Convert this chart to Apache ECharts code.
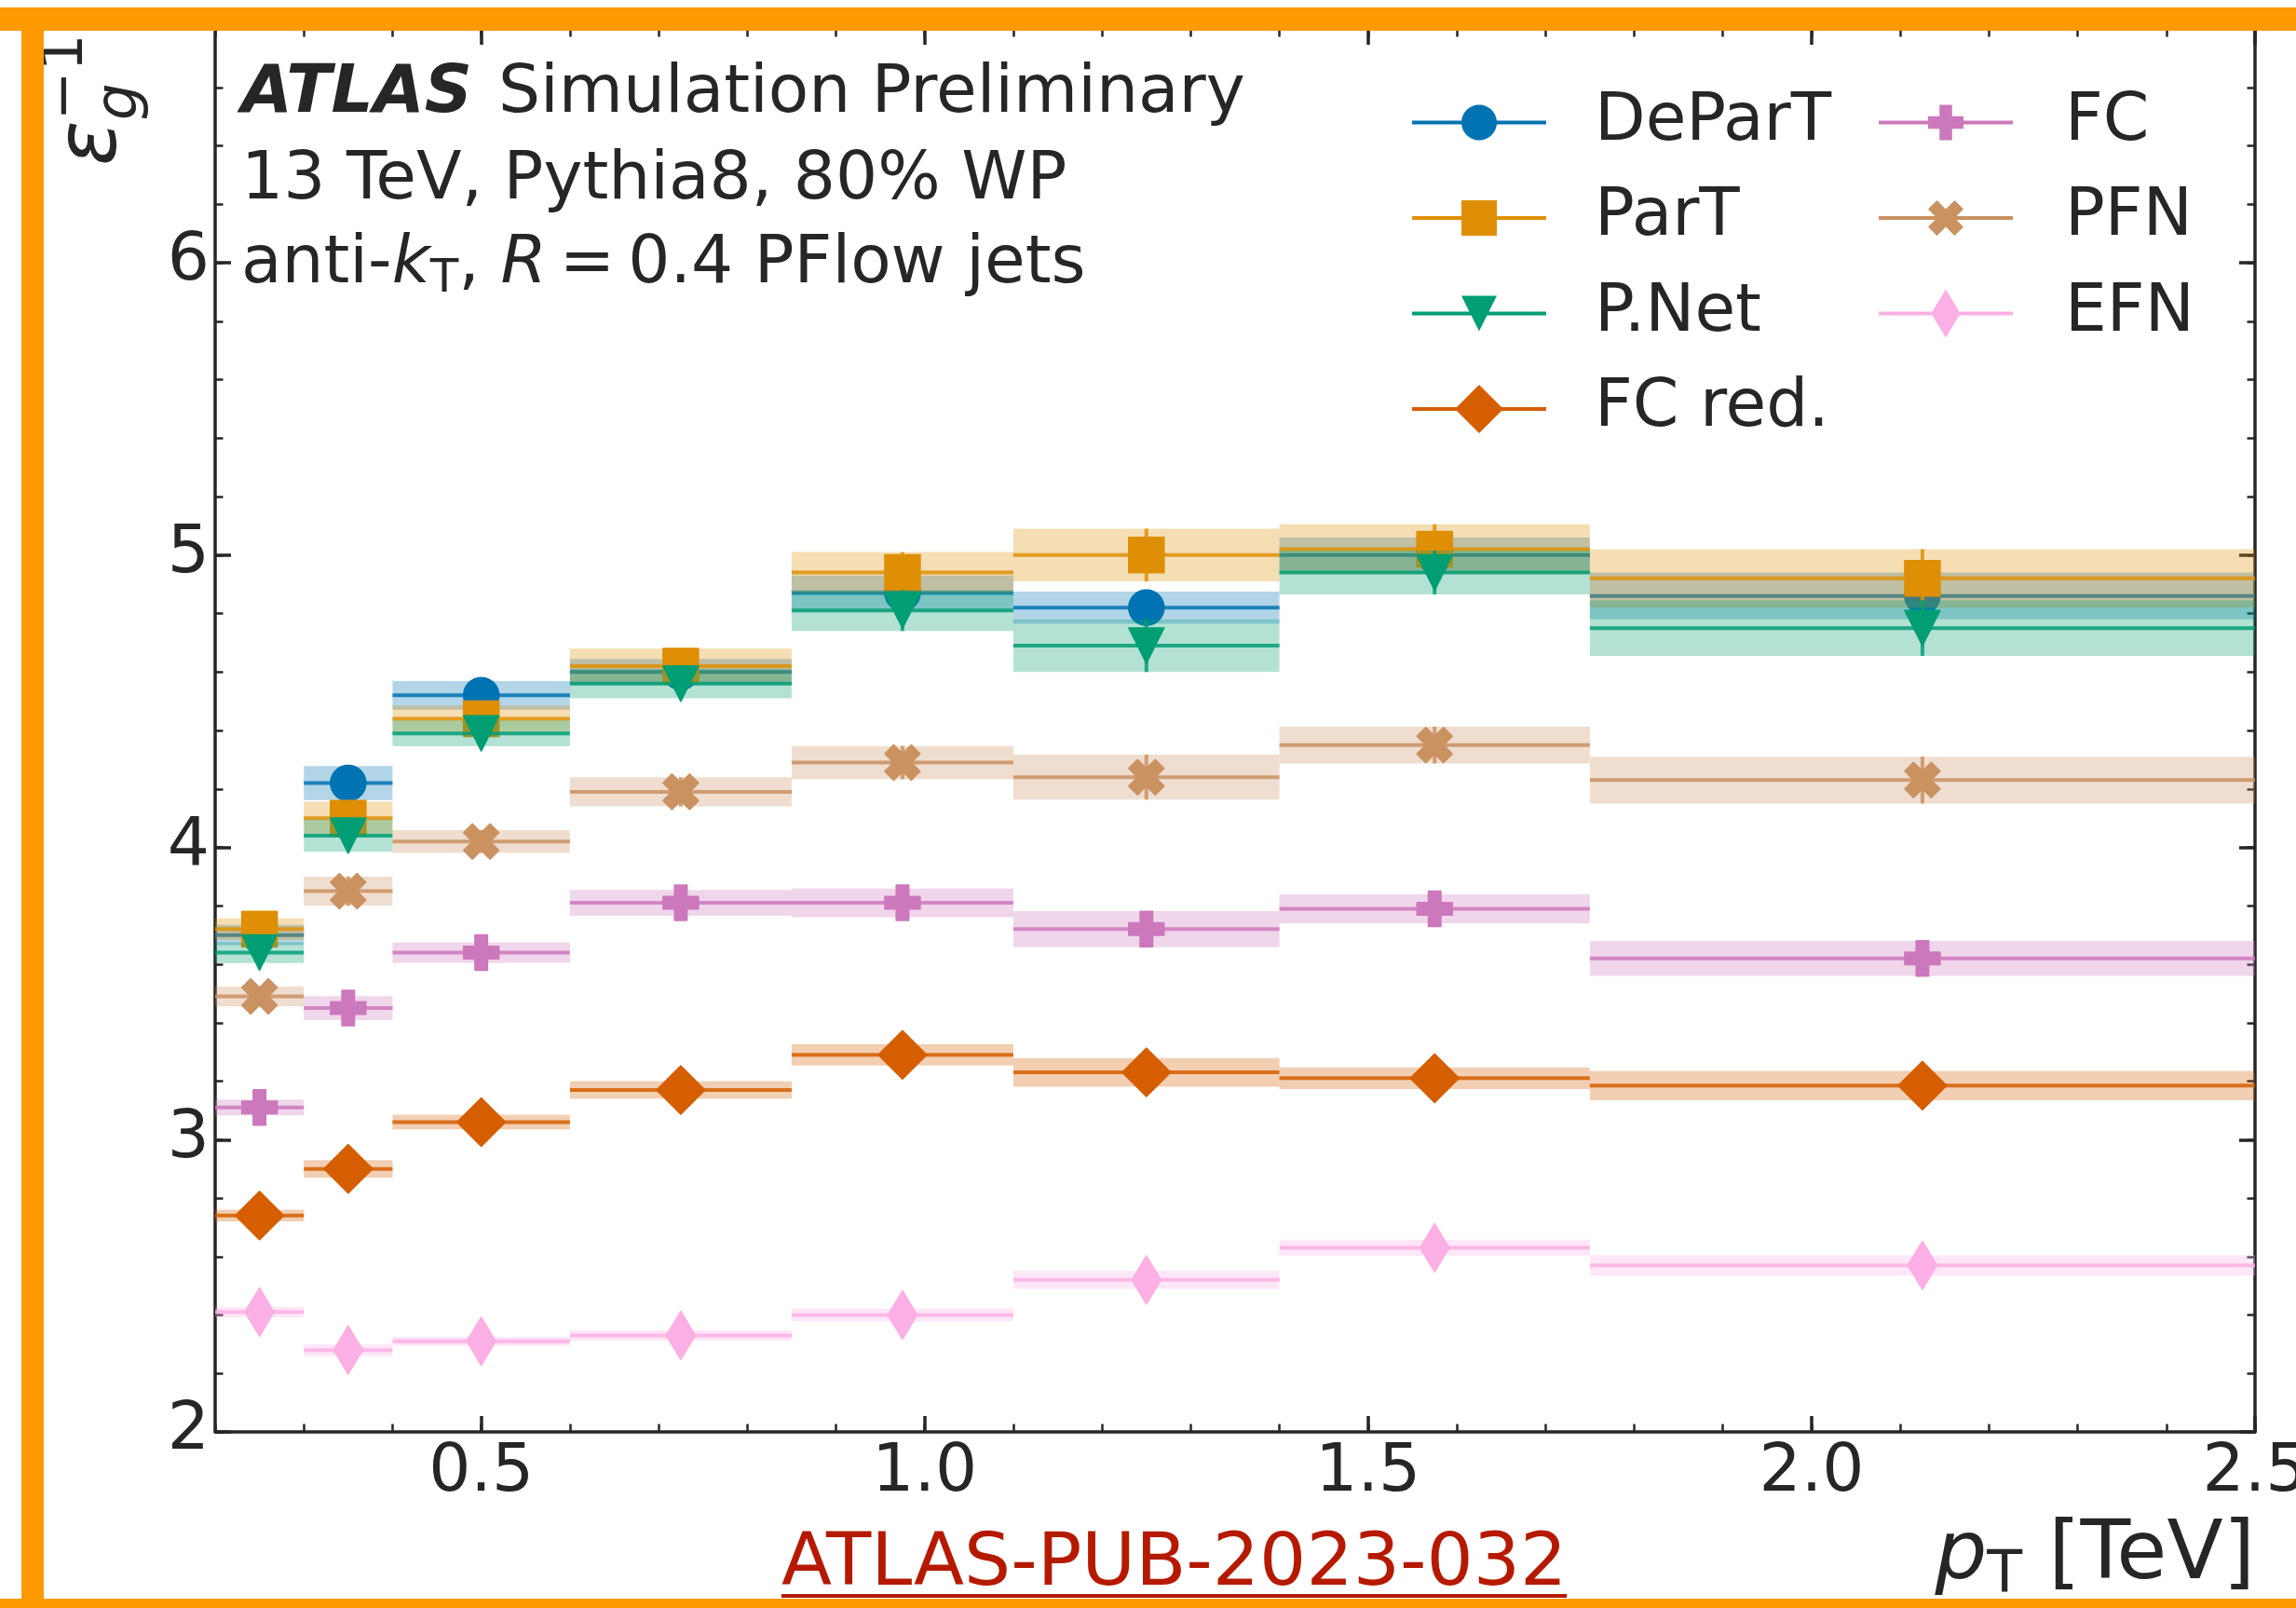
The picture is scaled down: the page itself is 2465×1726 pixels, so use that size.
<!DOCTYPE html>
<html>
<head>
<meta charset="utf-8">
<title>Gluon rejection vs pT</title>
<script src="https://cdn.jsdelivr.net/npm/echarts@6/dist/echarts.min.js"></script>
<style>
  html, body { margin: 0; padding: 0; background: #fff; }
  #chart { width: 2465px; height: 1726px; }
</style>
</head>
<body>
<div id="chart"></div>
<script>
// pT bins [TeV]
const binEdges = [0.2, 0.3, 0.4, 0.6, 0.85, 1.1, 1.4, 1.75, 2.5];
const binCenters = [0.25, 0.35, 0.5, 0.725, 0.975, 1.25, 1.575, 2.125];

// inverse gluon efficiency per bin, and half height of the uncertainty band
const departVals = [3.70, 4.22, 4.52, 4.60, 4.87, 4.82, 5.00, 4.86];
const departErrs = [0.035, 0.058, 0.049, 0.045, 0.06, 0.055, 0.06, 0.08];
const partVals = [3.72, 4.10, 4.44, 4.62, 4.94, 5.00, 5.02, 4.92];
const partErrs = [0.037, 0.056, 0.045, 0.06, 0.07, 0.09, 0.085, 0.10];
const pnetVals = [3.64, 4.04, 4.39, 4.56, 4.81, 4.69, 4.94, 4.75];
const pnetErrs = [0.036, 0.055, 0.044, 0.05, 0.07, 0.09, 0.075, 0.095];
const fcredVals = [2.74, 2.90, 3.06, 3.17, 3.29, 3.23, 3.21, 3.185];
const fcredErrs = [0.02, 0.03, 0.025, 0.03, 0.037, 0.049, 0.037, 0.05];
const fcVals = [3.11, 3.45, 3.64, 3.81, 3.81, 3.72, 3.79, 3.62];
const fcErrs = [0.027, 0.041, 0.035, 0.044, 0.049, 0.062, 0.05, 0.06];
const pfnVals = [3.49, 3.85, 4.02, 4.19, 4.29, 4.24, 4.35, 4.23];
const pfnErrs = [0.034, 0.05, 0.039, 0.05, 0.057, 0.077, 0.063, 0.08];
const efnVals = [2.41, 2.28, 2.31, 2.33, 2.40, 2.52, 2.63, 2.57];
const efnErrs = [0.018, 0.02, 0.015, 0.018, 0.022, 0.031, 0.027, 0.035];

// tick labels
const xMajorTicks = [0.5, 1.0, 1.5, 2.0, 2.5];
const yMajorTicks = [2, 3, 4, 5, 6];

const FONT = 'DejaVu Sans';
const TEXT = '#262626';
const MID = 0.29; // canvas 'middle' sits this many em above the baseline

// marker outlines in px around the point, all clockwise
function circlePts(r) {
  const pts = [];
  for (let i = 0; i < 64; i++) {
    const t = i / 64 * 2 * Math.PI;
    pts.push([r * Math.cos(t), r * Math.sin(t)]);
  }
  return pts;
}
const a = 6.75;
const markers = {
  circle: circlePts(19),
  square: [[-19, -19], [19, -19], [19, 19], [-19, 19]],
  triDown: [[-19, -19], [19, -19], [0, 19]],
  diamond: [[0, -26], [26, 0], [0, 26], [-26, 0]],
  plus: [[-a, -19], [a, -19], [a, -a], [19, -a], [19, a], [a, a], [a, 19], [-a, 19], [-a, a], [-19, a], [-19, -a], [-a, -a]],
  cross: [[-1, -2], [0, -1], [1, -2], [2, -1], [1, 0], [2, 1], [1, 2], [0, 1], [-1, 2], [-2, 1], [-1, 0], [-2, -1]].map(p => [p[0] * 9.5, p[1] * 9.5]),
  thinDiamond: [[0, -26], [15.6, 0], [0, 26], [-15.6, 0]]
};

const taggers = [
  { name: 'DeParT', color: '#0173B2', marker: 'circle', vals: departVals, errs: departErrs },
  { name: 'ParT', color: '#DE8F05', marker: 'square', vals: partVals, errs: partErrs },
  { name: 'P.Net', color: '#029E73', marker: 'triDown', vals: pnetVals, errs: pnetErrs },
  { name: 'FC red.', color: '#D55E00', marker: 'diamond', vals: fcredVals, errs: fcredErrs },
  { name: 'FC', color: '#CC78BC', marker: 'plus', vals: fcVals, errs: fcErrs },
  { name: 'PFN', color: '#CA9161', marker: 'cross', vals: pfnVals, errs: pfnErrs },
  { name: 'EFN', color: '#FBAFE4', marker: 'thinDiamond', vals: efnVals, errs: efnErrs }
];

function binRenderer(t) {
  const pts = markers[t.marker];
  return function (params, api) {
    const xc = api.value(0), y = api.value(1), lo = api.value(2), hi = api.value(3), err = api.value(4);
    const pl = api.coord([lo, y]);
    const pr = api.coord([hi, y]);
    const pc = api.coord([xc, y]);
    const top = api.coord([xc, y + err])[1];
    const bot = api.coord([xc, y - err])[1];
    return {
      type: 'group',
      children: [
        { type: 'rect', shape: { x: pl[0], y: top, width: pr[0] - pl[0], height: bot - top },
          style: { fill: t.color, opacity: 0.3 } },
        { type: 'line', shape: { x1: pl[0], y1: pc[1], x2: pr[0], y2: pc[1] },
          style: { stroke: t.color, lineWidth: 4, opacity: 0.85 } },
        { type: 'line', shape: { x1: pc[0], y1: top, x2: pc[0], y2: bot },
          style: { stroke: t.color, lineWidth: 4, opacity: 0.85 } },
        { type: 'polygon', shape: { points: pts.map(p => [p[0] + pc[0], p[1] + pc[1]]) },
          style: { fill: t.color, stroke: t.color, lineWidth: 1.5, lineJoin: 'round' } }
      ]
    };
  };
}

// legend handle: line with the marker in the middle
function legendIcon(key) {
  const pts = markers[key];
  const h = Math.max(...pts.map(p => Math.abs(p[1])));
  const W = 144, cx = 72;
  const bar = 'M0,' + (h - 2) + ' L' + W + ',' + (h - 2) + ' L' + W + ',' + (h + 2) + ' L0,' + (h + 2) + ' Z';
  const m = 'M' + pts.map(p => (p[0] + cx).toFixed(2) + ',' + (p[1] + h).toFixed(2)).join(' L') + ' Z';
  return 'path://' + bar + ' ' + m;
}

const mctx = document.createElement('canvas').getContext('2d');
function advance(str, size, fstyle) {
  mctx.font = (fstyle || 'normal') + ' normal normal ' + size + 'px "' + FONT + '"';
  return mctx.measureText(str).width;
}

function txt(str, x, baseline, size, extra) {
  return {
    type: 'text', x: x, y: baseline - MID * size, z: 50,
    style: Object.assign({ text: str, fontFamily: FONT, fontSize: size, fill: TEXT,
      align: 'left', verticalAlign: 'middle' }, extra || {})
  };
}
// rotated (reading upwards): baselineX is the screen x of the baseline, startY where the text begins
function vtxt(str, baselineX, startY, size, extra) {
  return {
    type: 'text', x: baselineX - MID * size, y: startY, rotation: Math.PI / 2, z: 50,
    style: Object.assign({ text: str, fontFamily: FONT, fontSize: size, fill: TEXT,
      align: 'left', verticalAlign: 'middle' }, extra || {})
  };
}

const graphics = [];
// labels in the top left corner
graphics.push(txt('ATLAS', 259, 122, 71, { fontStyle: 'italic', fontWeight: 'bold' }));
graphics.push(txt('Simulation Preliminary', 535, 122, 71));
graphics.push(txt('13 TeV, Pythia8, 80% WP', 259, 215, 71));
let lx = 259;
const mathGap = 14; // spacing round '=' in the math part
graphics.push(txt('anti-', lx, 305, 71)); lx += advance('anti-', 71);
graphics.push(txt('k', lx, 305, 71, { fontStyle: 'italic' })); lx += advance('k', 71, 'italic');
graphics.push(txt('T', lx, 315, 50)); lx += advance('T', 50);
graphics.push(txt(', ', lx, 305, 71)); lx += advance(', ', 71);
graphics.push(txt('R', lx, 305, 71, { fontStyle: 'italic' })); lx += advance('R', 71, 'italic') + mathGap;
graphics.push(txt('=', lx, 305, 71)); lx += advance('=', 71) + mathGap;
graphics.push(txt('0.4 PFlow jets', lx, 305, 71));

// x axis title, right aligned to the plot edge
const xlW = advance('p', 88, 'italic') + advance('T', 62) + advance(' [TeV]', 88);
let xx = 2421 - xlW;
graphics.push(txt('p', xx, 1697, 88, { fontStyle: 'italic' })); xx += advance('p', 88, 'italic');
graphics.push(txt('T', xx, 1710, 62)); xx += advance('T', 62);
graphics.push(txt(' [TeV]', xx, 1697, 88));

// y axis title
const epsW = advance('ε', 90, 'italic');
graphics.push(vtxt('ε', 127, 178, 90, { fontStyle: 'italic' }));
graphics.push(vtxt('g', 148, 178 - epsW, 63, { fontStyle: 'italic' }));
graphics.push(vtxt('−1', 90, 178 - epsW, 63));

// publication reference
const pubW = advance('ATLAS-PUB-2023-032', 79);
graphics.push(txt('ATLAS-PUB-2023-032', 839, 1703, 79, { fill: '#b51a00' }));
graphics.push({ type: 'rect', z: 50, shape: { x: 839, y: 1711, width: pubW, height: 4 }, style: { fill: '#b51a00' } });

// orange frame round the picture
const FRAME = '#ff9900';
graphics.push({ type: 'rect', z: 100, shape: { x: 0, y: 8, width: 2465, height: 25 }, style: { fill: FRAME } });
graphics.push({ type: 'rect', z: 100, shape: { x: 23, y: 8, width: 24, height: 1718 }, style: { fill: FRAME } });
graphics.push({ type: 'rect', z: 100, shape: { x: 0, y: 1716, width: 2465, height: 10 }, style: { fill: FRAME } });

function majorAxis(pos, min, max, ticks, fmt, showLabel, margin) {
  return {
    type: 'value', position: pos, min: min, max: max,
    axisLine: { show: true, onZero: false, lineStyle: { color: TEXT, width: 3.5 } },
    axisTick: { show: true, inside: true, length: 17, customValues: ticks, lineStyle: { color: TEXT, width: 3.5 } },
    axisLabel: { show: showLabel, customValues: ticks, formatter: fmt, margin: margin,
      fontSize: 71, fontFamily: FONT, color: TEXT },
    splitLine: { show: false }
  };
}
function minorAxis(pos, min, max, step) {
  return {
    type: 'value', position: pos, min: min, max: max, interval: step,
    axisLine: { show: false },
    axisTick: { show: true, inside: true, length: 8.5, lineStyle: { color: TEXT, width: 2.5 } },
    axisLabel: { show: false },
    splitLine: { show: false }
  };
}

function legendBlock(items, left, textPad) {
  return {
    data: items.map(t => ({ name: t.name, icon: legendIcon(t.marker) })),
    orient: 'vertical', left: left, top: 96, padding: 0,
    itemWidth: 144, itemHeight: 54, itemGap: 31.5, selectedMode: false, symbolKeepAspect: true,
    textStyle: { fontFamily: FONT, fontSize: 71, color: TEXT, padding: [0, 0, 0, textPad] }
  };
}

const chart = echarts.init(document.getElementById('chart'));
chart.setOption({
  animation: false,
  backgroundColor: '#fff',
  textStyle: { fontFamily: FONT },
  grid: { left: 231, right: 44, top: 31, bottom: 189, outerBoundsMode: 'none' },
  xAxis: [
    majorAxis('bottom', 0.2, 2.5, xMajorTicks, v => v.toFixed(1), true, 9),
    minorAxis('bottom', 0.2, 2.5, 0.1),
    majorAxis('top', 0.2, 2.5, xMajorTicks, v => v.toFixed(1), false, 9),
    minorAxis('top', 0.2, 2.5, 0.1)
  ],
  yAxis: [
    majorAxis('left', 2, 6.8, yMajorTicks, v => String(v), true, 6),
    minorAxis('left', 2, 6.8, 0.2),
    majorAxis('right', 2, 6.8, yMajorTicks, v => String(v), false, 6),
    minorAxis('right', 2, 6.8, 0.2)
  ],
  legend: [
    legendBlock(taggers.slice(0, 4), 1516, 47),
    legendBlock(taggers.slice(4), 2017, 51)
  ],
  series: taggers.map(t => ({
    type: 'custom',
    name: t.name,
    xAxisIndex: 0,
    yAxisIndex: 0,
    clip: true,
    itemStyle: { color: t.color },
    encode: { x: 0, y: 1 },
    renderItem: binRenderer(t),
    data: binCenters.map((c, i) => [c, t.vals[i], binEdges[i], binEdges[i + 1], t.errs[i]])
  })),
  graphic: graphics
});
</script>
</body>
</html>
